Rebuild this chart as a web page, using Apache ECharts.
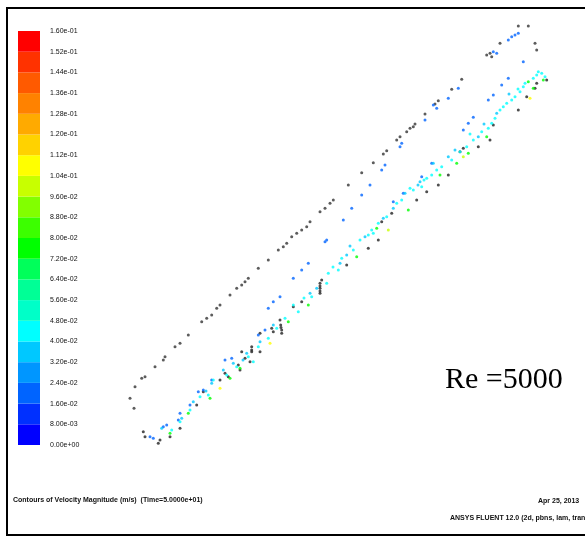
<!DOCTYPE html>
<html>
<head>
<meta charset="utf-8">
<script src="https://cdn.jsdelivr.net/npm/echarts@6/dist/echarts.min.js"></script>
<style>html,body{margin:0;padding:0;background:#fff;}#c{width:585px;height:538px;}</style>
</head>
<body>
<div id="c"></div>
<script>
// Colour-bar tick labels (top to bottom)
var cbLabels = ['1.60e-01','1.52e-01','1.44e-01','1.36e-01','1.28e-01','1.20e-01','1.12e-01','1.04e-01','9.60e-02','8.80e-02','8.00e-02','7.20e-02','6.40e-02','5.60e-02','4.80e-02','4.00e-02','3.20e-02','2.40e-02','1.60e-02','8.00e-03','0.00e+00'];
// Band boundaries (bottom to top)
var cbBounds = [0, 0.008, 0.016, 0.024, 0.032, 0.040, 0.048, 0.056, 0.064, 0.072, 0.080, 0.088, 0.096, 0.104, 0.112, 0.120, 0.128, 0.136, 0.144, 0.152, 0.160];
var bandColors = ['#0000ff','#0030ff','#0064ff','#0096ff','#00c8ff','#00ffff','#00ffc8','#00ff96','#00ff5a','#00ff00','#3cff00','#82ff00','#c8ff00','#ffff00','#ffd200','#ffaa00','#ff8200','#ff5a00','#ff3200','#ff0000'];

// Outer wall / untracked particle positions (black)
var blackUpper = [[3.0,6.17],[3.4,5.17],[3.5,7.33],[4.17,8.17],[4.5,8.33],[5.5,9.33],[6.33,10.0],[6.5,10.33],[7.5,11.33],[8.0,11.67],[8.83,12.5],[10.17,13.83],[10.67,14.17],[11.17,14.5],[11.67,15.17],[12.0,15.5],[13.0,16.5],[13.67,17.17],[14.17,17.5],[14.5,17.83],[14.83,18.17],[15.83,19.17],[16.83,20.0],[17.83,21.0],[18.33,21.33],[18.67,21.67],[19.17,22.33],[19.67,22.67],[20.17,23.0],[20.67,23.33],[21.0,23.83],[22.0,24.83],[22.5,25.17],[23.0,25.67],[23.33,26.0],[24.83,27.5],[26.17,28.73],[27.33,29.73],[28.33,30.6],[28.67,30.93],[29.67,32.0],[30.0,32.33],[30.67,32.83],[31.0,33.17],[31.33,33.33],[31.5,33.6],[32.5,34.6],[33.5,35.6],[33.83,35.93],[35.17,37.07],[36.17,38.07],[38.67,40.5],[39.0,40.67],[39.17,40.33],[40.0,41.67],[41.83,43.4],[42.83,43.4],[43.5,41.67],[43.67,41.0]];
var blackLower = [[4.33,2.83],[4.5,2.33],[5.83,1.67],[6.0,2.0],[7.0,2.33],[8.0,3.17],[9.67,5.5],[10.33,6.83],[12.0,8.0],[12.5,8.67],[12.83,8.33],[13.83,9.5],[14.0,9.0],[14.17,10.83],[14.5,10.17],[15.0,9.83],[15.17,11.33],[15.17,10.83],[15.17,11.0],[16.0,10.83],[16.0,12.67],[17.17,13.17],[17.33,12.83],[18.0,14.0],[18.07,13.5],[18.17,13.0],[18.17,12.67],[18.1,13.25],[19.33,15.33],[20.17,15.83],[22.0,16.67],[22.0,17.17],[22.0,17.67],[22.0,16.9],[22.0,17.4],[22.17,18.0],[24.67,19.5],[26.83,21.17],[27.83,22.0],[28.17,23.83],[29.17,24.67],[31.67,26.0],[32.67,26.83],[33.83,27.5],[34.83,28.5],[36.0,30.83],[36.33,31.17],[37.83,31.33],[39.0,32.0],[39.33,33.5],[41.83,35.0],[42.67,36.33],[43.5,37.17],[43.67,37.67],[44.67,38.0]];

// Coloured particle positions: [x, y, velocity magnitude]
var particles = [
[5.0,2.33,0.020],[5.33,2.17,0.020],[6.33,3.33,0.020],[6.67,3.5,0.020],[7.83,4.0,0.020],[8.0,4.67,0.020],[9.0,5.5,0.020],[9.83,6.83,0.020],[10.33,7.0,0.020],[11.17,8.0,0.020],[12.5,10.0,0.020],[13.17,10.17,0.020],[15.83,12.5,0.020],[16.5,13.0,0.020],[16.83,15.17,0.020],[17.33,15.83,0.020],[18.0,16.33,0.020],[19.33,18.17,0.020],[20.17,19.0,0.020],[20.83,19.67,0.020],[22.5,21.83,0.020],[22.67,22.0,0.020],[24.33,24.0,0.020],[25.17,25.17,0.020],[26.17,26.5,0.020],[27.0,27.5,0.020],[28.17,29.0,0.020],[28.5,29.5,0.020],[30.0,31.33,0.020],[30.17,31.67,0.020],[32.17,28.33,0.020],[32.5,34.0,0.020],[33.33,35.5,0.020],[33.67,35.17,0.020],[34.83,36.17,0.020],[35.83,37.17,0.020],[38.83,36.0,0.020],[39.33,36.5,0.020],[40.17,37.5,0.020],[40.83,38.17,0.020],[39.33,40.83,0.020],[39.67,40.67,0.020],[40.83,42.0,0.020],[41.17,42.33,0.020],[41.5,42.5,0.020],[41.83,42.67,0.020],[42.33,39.83,0.020],
[36.33,33.0,0.020],[36.83,33.67,0.020],[37.33,34.27,0.020],[29.33,25.83,0.020],[30.33,26.67,0.020],[33.17,29.67,0.020],
[6.17,3.17,0.036],[7.0,2.67,0.076],[7.17,3.0,0.044],[8.0,3.83,0.044],[8.17,4.17,0.036],[8.83,4.67,0.076],[9.0,5.0,0.044],[9.33,5.83,0.036],[10.0,6.33,0.044],[10.83,6.5,0.044],[11.0,6.17,0.076],[11.17,7.67,0.036],[11.33,8.0,0.044],[12.0,7.17,0.108],[12.33,9.0,0.036],[12.67,8.5,0.044],[13.0,8.17,0.076],[13.33,9.67,0.036],[13.67,9.33,0.044],[14.0,9.17,0.076],[14.67,10.67,0.036],[14.83,10.33,0.044],[15.33,9.83,0.044],[15.83,11.33,0.044],[16.0,11.83,0.036],[16.83,12.17,0.044],[17.0,11.67,0.108],[17.33,13.5,0.036],[17.67,13.17,0.044],[18.5,14.17,0.044],[18.83,13.83,0.076],[19.33,15.5,0.044],[19.83,14.83,0.044],[20.83,15.5,0.076],[21.0,16.67,0.036],[21.17,16.33,0.044],[21.67,17.17,0.036],[22.67,17.67,0.044],[22.83,18.67,0.044],[23.83,19.0,0.044],[24.0,19.67,0.036],[24.17,20.17,0.044],[24.67,20.5,0.036],[25.33,21.0,0.044],[25.67,20.33,0.076],[26.0,22.0,0.044],[26.5,22.33,0.036],[26.83,22.5,0.044],[27.17,23.0,0.044],[27.33,22.67,0.044],[27.67,23.17,0.076],[27.83,23.67,0.044],[28.33,24.17,0.036],[28.67,24.33,0.044],[28.83,23.0,0.100],[29.33,25.17,0.036],[29.67,25.67,0.044],[30.17,26.0,0.044],[30.5,26.67,0.036],[31.0,27.17,0.044],[30.83,25.0,0.076],[31.33,27.0,0.044],[32.0,27.83,0.036],[32.17,27.33,0.044],[32.67,28.17,0.044],[33.17,28.5,0.044],[33.33,29.67,0.036],[33.67,29.0,0.044],[34.0,28.5,0.076],[34.17,29.33,0.044],[34.83,30.33,0.036],[35.17,30.0,0.044],[35.67,29.67,0.076],[36.0,30.83,0.044],[36.33,30.33,0.100],[36.67,31.33,0.044],[36.83,30.67,0.076],[37.33,32.0,0.044],[37.83,32.33,0.036],[38.17,32.83,0.044],[38.67,32.33,0.076],[38.83,33.17,0.044],[39.17,33.67,0.044],[39.5,34.17,0.044],[39.67,34.67,0.036],[40.0,35.0,0.044],[40.33,35.33,0.044],[40.67,35.67,0.044],[41.17,36.0,0.044],[41.5,36.33,0.044],[42.0,36.83,0.044],[42.33,37.33,0.044],[42.5,37.67,0.044],[42.83,37.83,0.076],[43.0,36.17,0.108],[43.33,38.17,0.044],[43.67,38.5,0.044],[43.83,38.83,0.044],[44.17,38.67,0.044],[44.33,38.0,0.076],[44.5,38.33,0.044],[43.33,37.17,0.076],
[31.8,27.5,0.036],[32.4,28.0,0.044],[35.5,31.0,0.036],[37.0,32.6,0.044],[38.4,33.6,0.036],[40.9,36.6,0.036],[41.8,37.1,0.044],[23.3,19.3,0.044],[25.0,21.4,0.036],[20.4,16.2,0.044],[14.3,10.0,0.036],[10.6,6.9,0.036]
];

var pieces = [];
for (var i = 0; i < bandColors.length; i++) {
  pieces.push({min: cbBounds[i], max: cbBounds[i + 1], color: bandColors[i]});
}
var barSeries = bandColors.map(function (c) {
  return {type: 'bar', xAxisIndex: 1, yAxisIndex: 1, stack: 'cb', data: [1], barWidth: '100%', itemStyle: {color: c}, silent: true};
});

var chart = echarts.init(document.getElementById('c'));
chart.setOption({
  animation: false,
  backgroundColor: '#ffffff',
  grid: [
    {left: 100, top: 20, width: 480, height: 440},
    {left: 18, top: 31, width: 22, height: 414}
  ],
  xAxis: [
    {type: 'value', min: 0, max: 48, show: false, gridIndex: 0},
    {type: 'category', data: ['cb'], show: false, gridIndex: 1}
  ],
  yAxis: [
    {type: 'value', min: 0, max: 44, show: false, gridIndex: 0},
    {type: 'value', min: 0, max: 20, interval: 1, gridIndex: 1, position: 'right',
     axisLine: {show: false}, axisTick: {show: false}, splitLine: {show: false},
     axisLabel: {margin: 10, fontSize: 7, color: '#111', fontFamily: 'Liberation Sans',
       formatter: function (v) { return cbLabels[20 - v]; }}}
  ],
  visualMap: {type: 'piecewise', show: false, seriesIndex: 2, dimension: 2, pieces: pieces},
  series: [
    {type: 'scatter', name: 'wall', data: blackUpper, symbolSize: 3, itemStyle: {color: '#333'}},
    {type: 'scatter', name: 'wall2', data: blackLower, symbolSize: 3, itemStyle: {color: '#222'}},
    {type: 'scatter', name: 'particles', data: particles, symbolSize: 3}
  ].concat(barSeries),
  graphic: [
    {type: 'rect', shape: {x: 7, y: 8, width: 620, height: 527}, style: {fill: null, stroke: '#000', lineWidth: 2}, silent: true},
    {type: 'text', x: 445, y: 380, style: {text: 'Re =5000', font: '30px "Liberation Serif"', fill: '#000', textVerticalAlign: 'middle'}},
    {type: 'text', x: 13, y: 500, style: {text: 'Contours of Velocity Magnitude (m/s)  (Time=5.0000e+01)', font: 'bold 7px "Liberation Sans"', fill: '#111', textVerticalAlign: 'middle'}},
    {type: 'text', x: 538, y: 501, style: {text: 'Apr 25, 2013', font: 'bold 7px "Liberation Sans"', fill: '#111', textVerticalAlign: 'middle'}},
    {type: 'text', x: 450, y: 518, style: {text: 'ANSYS FLUENT 12.0 (2d, pbns, lam, transient)', font: 'bold 7px "Liberation Sans"', fill: '#111', textVerticalAlign: 'middle'}}
  ]
});
</script>
</body>
</html>
